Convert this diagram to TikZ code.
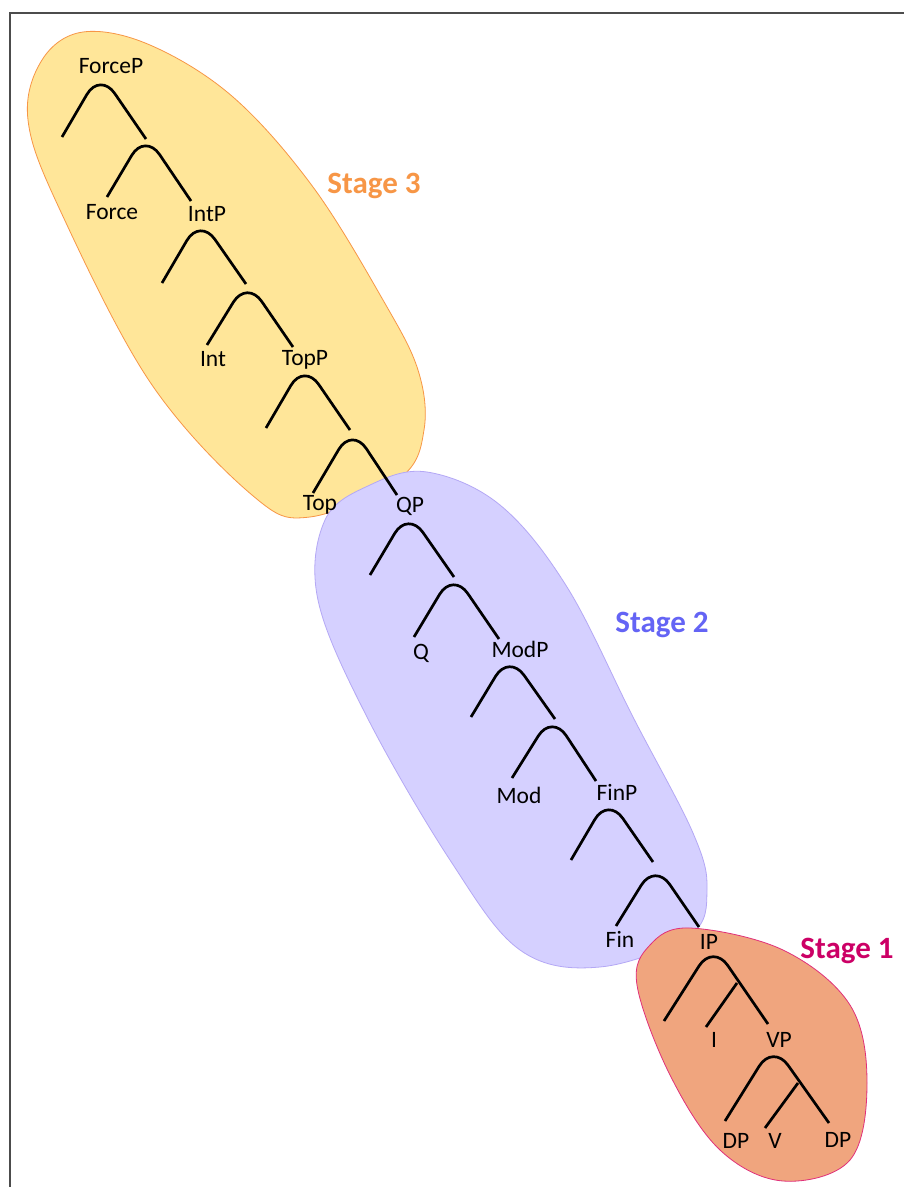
\documentclass[tikz,border=0pt]{standalone}
\usepackage{fontspec}
\setmainfont{Carlito}
\definecolor{yfill}{HTML}{FFE699}
\definecolor{yline}{HTML}{F79646}
\definecolor{lfill}{HTML}{D5D0FF}
\definecolor{lline}{HTML}{B4A8F5}
\definecolor{sfill}{HTML}{F0A57E}
\definecolor{sline}{HTML}{E0307A}
\definecolor{st3}{HTML}{F79646}
\definecolor{st2}{HTML}{6464F5}
\definecolor{st1}{HTML}{CC0066}
\begin{document}
\begin{tikzpicture}[x=1pt,y=-1pt,
  branch/.style={line width=2.7pt, rounded corners=26pt},
  leaf/.style={anchor=base, inner sep=0pt, font=\fontsize{23.5}{26}\selectfont},
  stagelbl/.style={anchor=base, inner sep=0pt, font=\fontsize{31}{34}\selectfont\bfseries},
  blob/.style={line width=0.8pt}]
\useasboundingbox (0,0) rectangle (904,1187);
\fill[white] (0,0) rectangle (904,1187);
% frame
\draw[line width=1.6pt, black!70] (10,1187) -- (10,13) -- (904,13);
% blobs
\draw[blob, draw=yline, fill=yfill] plot[smooth cycle, tension=0.6] coordinates {
 (83,32) (150,45) (233,97) (313,187) (383,300) (418,370) (424,430)
 (400,478) (310,517) (252,495) (150,382) (60,210) (28,120) (42,60)};
\draw[blob, draw=lline, fill=lfill] plot[smooth cycle, tension=0.6] coordinates {
 (427,472) (500,505) (567,587) (633,717) (693,833) (707,890) (690,935)
 (600,967) (520,950) (450,860) (367,717) (318,600) (325,520) (370,485)};
\draw[blob, draw=sline, fill=sfill] plot[smooth cycle, tension=0.6] coordinates {
 (690,928) (783,950) (850,1005) (867,1083) (850,1160) (783,1181)
 (720,1150) (670,1075) (637,985) (650,945)};
% tree branches
\foreach \i/\ax/\ay/\lx/\ly/\rx/\ry in {
  1/100/82/62/137/146/139,
  2/145/143/107/197/191/201,
  3/200/228/162/283/246/284,
  4/247/290/207/345/293/347,
  5/304/373/266/428/350/430,
  6/352/437/313/493/397/495,
  7/408/521/370/575/454/577,
  8/453/582/414/637/499/639,
  9/509/664/471/717/555/719,
  10/552/724/512/778/596/781,
  11/608/807/571/860/653/862,
  12/655/873/616/926/699/927,
  13/713/954/664/1021/768/1024,
  14/773/1054/725/1121/829/1123}{
  \coordinate (a\i) at (\ax,{\ay-10});
  \coordinate (l\i) at (\lx,\ly);
  \coordinate (r\i) at (\rx,\ry);
  \draw[branch] (l\i) -- (a\i) -- (r\i);
}
\coordinate (m13) at (737,983);
\coordinate (e13) at (706,1027);
\coordinate (m14) at (798,1083);
\coordinate (e14) at (765,1128);
\draw[line width=2.7pt] (m13) -- (e13);
\draw[line width=2.7pt] (m14) -- (e14);
% labels
\node[leaf] (forcep) at (111,73) {ForceP};
\node[leaf] (force) at (112,219) {Force};
\node[leaf] (intp) at (207,221) {IntP};
\node[leaf] (int) at (213,366) {Int};
\node[leaf] (topp) at (305,365) {TopP};
\node[leaf] (top) at (320,510) {Top};
\node[leaf] (qp) at (410,512) {QP};
\node[leaf] (q) at (421,659) {Q};
\node[leaf] (modp) at (520,657) {ModP};
\node[leaf] (mod) at (519,803) {Mod};
\node[leaf] (finp) at (617,800) {FinP};
\node[leaf] (fin) at (620,947) {Fin};
\node[leaf] (ip) at (709,949) {IP};
\node[leaf] (i) at (714,1047) {I};
\node[leaf] (vp) at (779,1047) {VP};
\node[leaf] (dp1) at (736,1148) {DP};
\node[leaf] (v) at (775,1148) {V};
\node[leaf] (dp2) at (838,1147) {DP};
% stage labels
\node[stagelbl, text=st3] (s3) at (374,193) {Stage 3};
\node[stagelbl, text=st2] (s2) at (662,632) {Stage 2};
\node[stagelbl, text=st1] (s1) at (847,958) {Stage 1};
\end{tikzpicture}
\end{document}
